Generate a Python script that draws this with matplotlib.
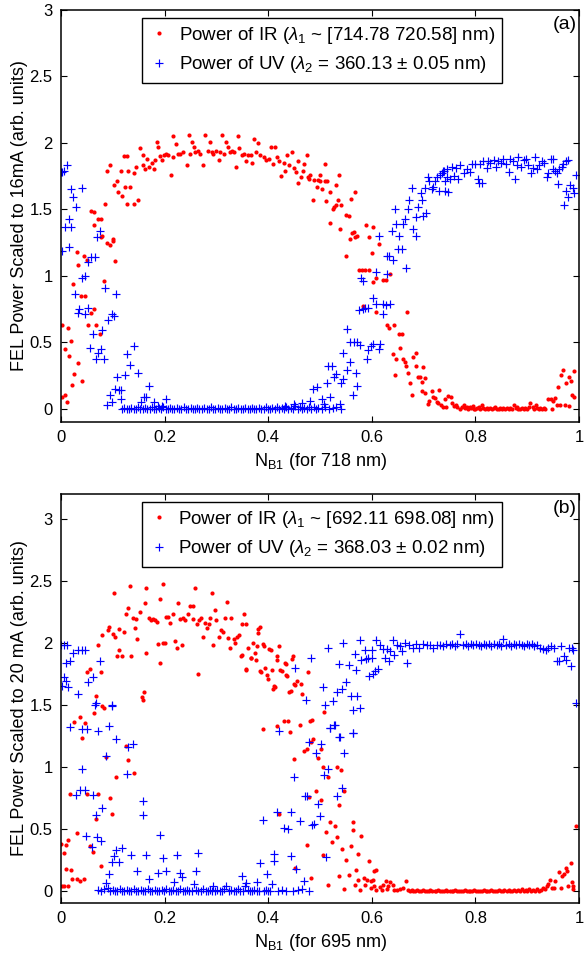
import numpy as np
import matplotlib.pyplot as plt

plt.rcParams['font.family'] = 'Liberation Sans'
plt.rcParams['mathtext.fontset'] = 'custom'
plt.rcParams['mathtext.rm'] = 'Liberation Sans'
plt.rcParams['mathtext.it'] = 'Liberation Sans:italic'

# ---- panel (a): scaled to 16 mA, 718 nm ----
ir_a = np.array([
    (0.001, 0.085), (0.007, 0.10), (0.012, 0.05), (0.002, 0.63), (0.008, 0.45), (0.013, 0.61),
    (0.015, 0.40), (0.019, 0.51), (0.021, 0.18), (0.026, 0.26), (0.032, 0.34), (0.040, 0.21),
    (0.024, 0.94), (0.030, 1.18), (0.033, 1.08), (0.039, 0.85), (0.047, 0.85), (0.045, 1.15),
    (0.050, 1.12), (0.052, 0.63), (0.057, 0.72), (0.063, 0.75), (0.068, 0.63), (0.075, 0.565),
    (0.077, 1.29), (0.083, 0.96), (0.088, 1.25), (0.094, 1.23), (0.100, 1.26), (0.105, 1.11),
    (0.057, 1.49), (0.064, 1.48), (0.063, 1.38), (0.071, 1.43), (0.077, 1.43), (0.079, 1.30),
    (0.084, 1.54), (0.100, 1.28),
    (0.088, 1.79), (0.095, 1.83), (0.102, 1.68), (0.109, 1.71), (0.110, 1.63), (0.115, 1.79),
    (0.117, 1.60), (0.121, 1.90), (0.127, 1.90), (0.123, 1.67), (0.128, 1.54), (0.129, 1.79),
    (0.134, 1.67), (0.140, 1.54), (0.140, 1.77), (0.148, 1.57), (0.145, 1.82), (0.153, 1.96),
    (0.158, 1.83), (0.159, 1.91), (0.163, 1.80), (0.166, 1.88), (0.170, 1.82), (0.175, 1.85),
    (0.180, 1.80), (0.182, 1.87), (0.185, 2.01), (0.188, 1.97), (0.191, 1.90), (0.195, 1.87),
    (0.198, 1.91), (0.202, 1.92), (0.207, 1.91), (0.212, 1.76), (0.216, 2.05), (0.217, 1.89),
    (0.221, 1.99), (0.225, 1.92), (0.230, 1.92), (0.236, 1.93), (0.243, 1.83), (0.247, 2.06),
    (0.249, 1.92), (0.253, 2.01), (0.256, 1.97), (0.259, 1.93), (0.265, 1.94), (0.268, 1.92),
    (0.275, 1.83), (0.278, 2.06), (0.283, 1.94), (0.288, 2.01), (0.291, 1.93), (0.294, 1.92),
    (0.299, 1.94), (0.304, 1.87), (0.307, 1.93), (0.310, 2.06), (0.314, 1.92), (0.319, 2.01),
    (0.322, 1.97), (0.327, 1.93), (0.330, 1.94), (0.333, 1.93), (0.338, 1.82), (0.341, 2.05),
    (0.344, 1.96), (0.349, 1.91), (0.354, 1.92), (0.358, 1.86), (0.361, 1.91), (0.366, 1.91),
    (0.369, 1.85), (0.373, 2.03), (0.376, 1.93), (0.381, 2.00), (0.385, 1.91), (0.391, 1.89),
    (0.395, 1.87), (0.402, 1.88), (0.405, 1.97), (0.409, 1.84), (0.413, 1.97), (0.417, 1.89),
    (0.421, 1.86), (0.425, 1.75), (0.430, 1.85), (0.433, 1.79), (0.437, 1.91), (0.441, 1.83),
    (0.445, 1.93), (0.449, 1.81), (0.453, 1.78), (0.457, 1.70),
    (0.458, 1.86), (0.463, 1.74), (0.468, 1.79), (0.469, 1.84), (0.474, 1.91), (0.476, 1.74),
    (0.478, 1.73), (0.481, 1.76), (0.487, 1.57), (0.488, 1.72), (0.495, 1.67), (0.496, 1.72),
    (0.499, 1.76), (0.500, 1.71), (0.503, 1.65), (0.510, 1.84), (0.510, 1.71), (0.512, 1.56),
    (0.514, 1.71), (0.519, 1.40), (0.520, 1.63), (0.525, 1.50), (0.527, 1.52), (0.530, 1.68),
    (0.530, 1.53), (0.535, 1.57), (0.536, 1.76), (0.539, 1.35), (0.540, 1.53), (0.550, 1.15),
    (0.551, 1.46), (0.555, 1.45), (0.557, 1.28), (0.560, 1.58), (0.562, 1.32), (0.566, 1.33),
    (0.568, 1.63), (0.568, 1.29), (0.572, 1.30), (0.589, 1.38), (0.594, 1.29), (0.600, 1.17),
    (0.603, 1.37), (0.614, 1.24),
    (0.576, 1.04), (0.581, 1.04), (0.587, 1.04), (0.595, 1.04), (0.602, 0.95), (0.609, 0.98),
    (0.621, 0.97), (0.627, 0.97), (0.635, 1.01), (0.582, 0.77), (0.608, 0.73), (0.629, 0.63),
    (0.634, 0.61), (0.642, 0.63), (0.653, 0.56), (0.658, 0.56), (0.667, 0.73), (0.654, 0.46),
    (0.640, 0.41), (0.647, 0.37), (0.645, 0.25), (0.661, 0.37), (0.664, 0.35), (0.666, 0.32),
    (0.670, 0.27), (0.674, 0.19), (0.677, 0.105), (0.679, 0.39), (0.685, 0.42), (0.685, 0.32),
    (0.690, 0.24), (0.693, 0.24), (0.696, 0.20), (0.698, 0.31), (0.703, 0.23), (0.696, 0.136),
    (0.703, 0.115), (0.709, 0.035), (0.710, 0.055), (0.716, 0.13), (0.719, 0.09), (0.722, 0.08),
    (0.725, 0.048), (0.730, 0.14), (0.728, 0.04), (0.733, 0.03), (0.738, 0.015), (0.742, 0.073),
    (0.744, 0.015), (0.748, 0.098),
    (0.752, 0.09), (0.755, 0.04), (0.758, 0.02), (0.762, 0.03), (0.765, 0.01), (0.770, 0.0),
    (0.774, 0.01), (0.777, 0.03), (0.780, 0.005), (0.783, 0.01), (0.786, 0.0), (0.789, 0.01),
    (0.792, 0.005), (0.795, 0.02), (0.798, 0.0), (0.800, 0.0), (0.803, 0.005), (0.806, 0.01),
    (0.809, 0.0), (0.812, 0.03), (0.815, 0.005), (0.819, 0.0), (0.822, 0.005), (0.825, 0.0),
    (0.828, 0.005), (0.832, 0.0), (0.835, 0.005), (0.838, 0.01), (0.841, 0.0), (0.845, 0.0),
    (0.848, 0.005), (0.851, 0.0), (0.854, 0.005), (0.857, 0.0), (0.860, 0.005), (0.864, 0.0),
    (0.867, 0.005), (0.870, 0.0), (0.875, 0.03), (0.878, 0.005), (0.880, 0.01), (0.883, 0.0),
    (0.886, 0.0), (0.889, 0.005), (0.893, 0.0), (0.896, 0.005), (0.900, 0.0), (0.903, 0.01),
    (0.906, 0.04), (0.911, 0.01), (0.914, 0.0), (0.916, 0.03), (0.919, 0.005), (0.922, 0.0),
    (0.925, 0.005), (0.929, 0.0), (0.932, 0.005), (0.935, 0.0), (0.940, 0.07), (0.945, 0.07),
    (0.948, 0.0), (0.950, 0.06), (0.954, 0.08), (0.957, 0.03), (0.964, 0.03), (0.960, 0.16),
    (0.966, 0.25), (0.970, 0.29), (0.974, 0.19), (0.973, 0.03), (0.980, 0.24), (0.980, 0.02),
    (0.985, 0.21), (0.987, 0.10), (0.991, 0.28), (0.991, 0.09),
])

uv_a = np.array([
    (0.000, 1.78), (0.002, 1.78), (0.006, 1.79), (0.011, 1.83), (0.019, 1.65), (0.024, 1.59),
    (0.029, 1.52), (0.041, 1.66), (0.016, 1.43), (0.008, 1.37), (0.020, 1.37), (0.075, 1.34),
    (0.070, 1.29), (0.001, 1.19), (0.015, 1.22), (0.053, 1.10), (0.058, 1.14), (0.065, 1.14),
    (0.041, 0.98), (0.047, 1.00), (0.027, 0.86), (0.035, 0.75), (0.032, 0.72), (0.046, 0.71),
    (0.053, 0.76), (0.062, 0.56), (0.056, 0.46), (0.067, 0.37), (0.071, 0.42), (0.078, 0.45),
    (0.083, 0.37), (0.080, 0.59), (0.085, 0.91), (0.090, 0.67), (0.098, 0.71), (0.103, 0.70),
    (0.107, 0.86), (0.089, 0.03), (0.094, 0.10), (0.099, 0.05), (0.104, 0.15), (0.108, 0.24),
    (0.111, 0.14), (0.116, 0.14), (0.115, 0.07), (0.124, 0.25), (0.128, 0.41), (0.134, 0.33),
    (0.140, 0.47), (0.148, 0.27), (0.154, 0.05), (0.160, 0.09), (0.164, 0.09), (0.170, 0.17),
    (0.180, 0.05), (0.188, 0.02), (0.194, 0.02), (0.202, 0.07),
    (0.118, 0.0), (0.122, 0.005), (0.127, 0.0), (0.131, 0.0), (0.136, 0.005), (0.140, 0.0),
    (0.145, 0.0), (0.149, 0.01), (0.153, 0.0), (0.158, 0.0), (0.162, 0.005), (0.166, 0.0),
    (0.171, 0.0), (0.175, 0.01), (0.179, 0.0), (0.184, 0.0), (0.189, 0.005), (0.193, 0.0),
    (0.197, 0.01), (0.202, 0.0), (0.206, 0.0), (0.210, 0.005), (0.215, 0.0), (0.219, 0.0),
    (0.224, 0.005), (0.228, 0.0), (0.232, 0.0), (0.237, 0.01), (0.241, 0.0), (0.246, 0.0),
    (0.250, 0.005), (0.254, 0.0), (0.259, 0.0), (0.263, 0.005), (0.267, 0.0), (0.272, 0.0),
    (0.276, 0.005), (0.281, 0.0), (0.285, 0.0), (0.289, 0.01), (0.294, 0.0), (0.298, 0.0),
    (0.303, 0.005), (0.307, 0.0), (0.311, 0.0), (0.316, 0.005), (0.320, 0.0), (0.325, 0.0),
    (0.329, 0.01), (0.333, 0.0), (0.338, 0.0), (0.342, 0.005), (0.347, 0.0), (0.351, 0.0),
    (0.355, 0.005), (0.360, 0.0), (0.364, 0.0), (0.369, 0.005), (0.373, 0.0), (0.377, 0.0),
    (0.382, 0.005), (0.386, 0.0), (0.391, 0.0), (0.395, 0.01), (0.399, 0.0), (0.404, 0.0),
    (0.408, 0.005), (0.413, 0.0), (0.417, 0.01), (0.421, 0.0), (0.426, 0.005), (0.430, 0.0),
    (0.435, 0.01), (0.439, 0.0), (0.443, 0.005), (0.448, 0.0), (0.452, 0.02), (0.457, 0.0),
    (0.461, 0.01), (0.465, 0.0), (0.470, 0.005), (0.474, 0.0), (0.479, 0.015), (0.483, 0.0),
    (0.488, 0.01), (0.492, 0.0), (0.497, 0.005), (0.503, 0.0), (0.510, 0.01), (0.518, 0.0),
    (0.525, 0.005), (0.540, 0.0),
    (0.432, 0.02), (0.450, 0.035), (0.465, 0.04), (0.481, 0.055), (0.486, 0.15), (0.495, 0.16),
    (0.503, 0.073), (0.508, 0.035), (0.513, 0.19), (0.520, 0.09), (0.516, 0.32), (0.524, 0.32),
    (0.526, 0.24), (0.531, 0.26), (0.531, 0.015), (0.539, 0.035), (0.540, 0.19), (0.545, 0.22),
    (0.545, 0.42), (0.552, 0.60), (0.552, 0.29), (0.558, 0.35), (0.558, 0.50), (0.563, 0.10),
    (0.566, 0.50), (0.570, 0.27), (0.572, 0.17), (0.572, 0.50), (0.577, 0.48), (0.576, 0.74),
    (0.582, 0.96), (0.582, 0.75), (0.587, 0.76), (0.590, 0.37), (0.593, 0.76), (0.593, 0.44),
    (0.598, 0.47), (0.602, 0.49), (0.603, 0.83), (0.608, 0.79), (0.609, 1.03), (0.614, 0.45),
    (0.616, 0.49), (0.622, 0.79), (0.622, 0.71), (0.627, 0.78), (0.630, 1.01), (0.635, 0.79),
    (0.666, 1.06),
    (0.580, 0.98), (0.613, 1.30), (0.630, 1.15), (0.634, 1.15), (0.640, 1.12), (0.638, 1.34),
    (0.647, 1.39), (0.653, 1.30), (0.651, 1.20), (0.658, 1.20), (0.660, 1.39), (0.664, 1.43),
    (0.645, 1.50), (0.670, 1.50), (0.672, 1.57), (0.677, 1.66), (0.679, 1.35), (0.685, 1.30),
    (0.685, 1.44), (0.690, 1.52), (0.694, 1.62), (0.696, 1.57), (0.699, 1.45), (0.705, 1.47),
    (0.703, 1.66), (0.709, 1.74), (0.711, 1.71), (0.716, 1.65), (0.719, 1.67), (0.722, 1.71),
    (0.725, 1.74), (0.729, 1.64), (0.732, 1.76), (0.738, 1.79), (0.741, 1.64), (0.746, 1.74),
    (0.748, 1.63),
    (0.735, 1.77), (0.739, 1.79), (0.742, 1.71), (0.746, 1.80), (0.750, 1.73), (0.754, 1.82),
    (0.759, 1.75), (0.763, 1.81), (0.767, 1.73), (0.771, 1.83), (0.777, 1.77), (0.783, 1.80),
    (0.790, 1.78), (0.793, 1.84), (0.799, 1.84), (0.804, 1.73), (0.806, 1.70), (0.812, 1.70),
    (0.809, 1.84), (0.815, 1.86), (0.822, 1.81), (0.825, 1.86), (0.829, 1.85), (0.835, 1.87),
    (0.840, 1.82), (0.844, 1.86), (0.849, 1.85), (0.854, 1.88), (0.859, 1.84), (0.864, 1.78),
    (0.867, 1.88), (0.872, 1.86), (0.876, 1.73), (0.880, 1.83), (0.883, 1.89), (0.888, 1.82),
    (0.893, 1.87), (0.898, 1.88), (0.902, 1.83), (0.907, 1.77), (0.912, 1.81), (0.915, 1.89),
    (0.918, 1.80), (0.923, 1.83), (0.928, 1.86), (0.932, 1.85), (0.938, 1.74), (0.941, 1.77),
    (0.945, 1.88), (0.950, 1.88), (0.949, 1.80), (0.954, 1.79), (0.957, 1.77), (0.962, 1.80),
    (0.960, 1.69), (0.967, 1.82), (0.970, 1.84), (0.975, 1.86), (0.979, 1.87), (0.971, 1.53),
    (0.975, 1.64), (0.979, 1.59), (0.983, 1.68), (0.988, 1.66), (0.990, 1.62), (0.994, 1.76),
])

# ---- panel (b): scaled to 20 mA, 695 nm ----
ir_b = np.array([
    (0.000, 0.38), (0.005, 0.306), (0.009, 0.37), (0.014, 0.41), (0.002, 0.035), (0.006, 0.035),
    (0.014, 0.035), (0.009, 0.175), (0.020, 0.17), (0.022, 0.094), (0.030, 0.465), (0.031, 0.09),
    (0.036, 0.076), (0.044, 0.09), (0.017, 0.78), (0.026, 1.36), (0.036, 1.40), (0.040, 1.23),
    (0.046, 1.35), (0.051, 0.78), (0.055, 0.36), (0.062, 0.31), (0.063, 1.43), (0.067, 0.58),
    (0.072, 0.78), (0.077, 0.20), (0.082, 1.47), (0.086, 1.08), (0.095, 0.75), (0.099, 0.62),
    (0.107, 0.92), (0.125, 1.17), (0.130, 1.05), (0.140, 0.95), (0.159, 1.54),
    (0.050, 1.76), (0.056, 1.79), (0.067, 1.57), (0.072, 1.98), (0.077, 1.76), (0.080, 1.49),
    (0.080, 2.06), (0.090, 2.10), (0.093, 2.13), (0.100, 2.07), (0.103, 2.40), (0.104, 2.05),
    (0.108, 1.89), (0.112, 1.94), (0.117, 1.89), (0.112, 2.11), (0.122, 2.09), (0.126, 2.23),
    (0.130, 2.28), (0.134, 2.46), (0.135, 1.89), (0.138, 2.20), (0.142, 2.12), (0.145, 2.19),
    (0.147, 2.03), (0.152, 2.25), (0.156, 1.56), (0.160, 1.60), (0.162, 2.32), (0.165, 2.44),
    (0.165, 1.92), (0.169, 2.20), (0.173, 2.18), (0.177, 2.19), (0.182, 2.18), (0.185, 2.17),
    (0.188, 1.99), (0.191, 1.84), (0.192, 2.35), (0.196, 2.47), (0.197, 2.00), (0.200, 2.00),
    (0.203, 2.21), (0.207, 2.21), (0.210, 2.16), (0.216, 2.23), (0.220, 2.01), (0.224, 1.96),
    (0.225, 2.32), (0.230, 2.19), (0.233, 1.98), (0.236, 2.20), (0.240, 2.18), (0.246, 2.23),
    (0.249, 2.30), (0.254, 2.30), (0.255, 2.19), (0.258, 2.44), (0.262, 2.15), (0.265, 1.75),
    (0.267, 2.18), (0.271, 2.20), (0.275, 2.05), (0.278, 2.16), (0.281, 2.12), (0.285, 2.15),
    (0.288, 2.20), (0.291, 2.40), (0.294, 1.98), (0.297, 2.26), (0.300, 2.18), (0.304, 2.05),
    (0.308, 2.10), (0.312, 2.09), (0.317, 2.20), (0.320, 2.33), (0.323, 2.04), (0.327, 1.96),
    (0.328, 2.20), (0.333, 2.03), (0.336, 2.00), (0.340, 2.05), (0.344, 2.06), (0.347, 1.89),
    (0.350, 2.15), (0.353, 2.23), (0.357, 1.78), (0.358, 2.15), (0.361, 1.96), (0.366, 1.88),
    (0.371, 2.00), (0.374, 1.92), (0.378, 1.97), (0.380, 2.08), (0.384, 2.13), (0.385, 1.77),
    (0.390, 1.99), (0.394, 1.80), (0.397, 1.74), (0.402, 1.95), (0.407, 1.78), (0.409, 1.63),
    (0.411, 1.65), (0.416, 1.89), (0.421, 1.97), (0.426, 1.77), (0.434, 1.83), (0.437, 1.73),
    (0.443, 1.61), (0.447, 1.89), (0.452, 1.66), (0.455, 1.69),
    (0.349, 1.90), (0.358, 1.79), (0.367, 1.88), (0.376, 1.86), (0.381, 2.11), (0.387, 1.76),
    (0.392, 1.97), (0.399, 1.71), (0.405, 1.94), (0.413, 1.64), (0.417, 1.86), (0.423, 1.78),
    (0.432, 1.84), (0.435, 1.74), (0.441, 1.60), (0.445, 1.87), (0.450, 1.67), (0.463, 1.67),
    (0.466, 1.59), (0.477, 1.76), (0.481, 1.37), (0.507, 1.44), (0.483, 1.20),
    (0.389, 1.30), (0.416, 1.33), (0.430, 1.37), (0.439, 1.37), (0.442, 1.28), (0.461, 1.34),
    (0.484, 1.38), (0.449, 1.06), (0.487, 1.22), (0.470, 1.13), (0.474, 1.14), (0.497, 1.07),
    (0.501, 1.14), (0.506, 1.00), (0.516, 0.914), (0.532, 1.00), (0.541, 0.976), (0.492, 0.807),
    (0.479, 0.756), (0.547, 0.80), (0.502, 0.73), (0.537, 0.69), (0.420, 0.62), (0.519, 0.554),
    (0.529, 0.524), (0.563, 0.557), (0.564, 0.486), (0.511, 0.476), (0.533, 0.433), (0.579, 0.444),
    (0.474, 0.371), (0.524, 0.39), (0.542, 0.339), (0.560, 0.357), (0.505, 0.29), (0.550, 0.25),
    (0.573, 0.295), (0.595, 0.237), (0.452, 0.183), (0.570, 0.169), (0.604, 0.156), (0.609, 0.164),
    (0.483, 0.102), (0.537, 0.116), (0.556, 0.129), (0.584, 0.102), (0.591, 0.089), (0.574, 0.089),
    (0.515, 0.048), (0.546, 0.016), (0.568, 0.048), (0.577, 0.008), (0.587, 0.048), (0.598, 0.075),
    (0.602, 0.089), (0.598, 0.02), (0.604, 0.04), (0.609, 0.003), (0.615, 0.027), (0.619, 0.008),
    (0.622, 0.048), (0.627, 0.075), (0.630, 0.011), (0.635, 0.07), (0.640, 0.048), (0.632, 0.04),
    (0.642, 0.008), (0.648, 0.008), (0.666, 0.075), (0.655, 0.01), (0.660, 0.02),
    (0.670, 0.005), (0.673, 0.0), (0.677, 0.005), (0.680, 0.0), (0.684, 0.0), (0.688, 0.005),
    (0.691, 0.0), (0.695, 0.0), (0.699, 0.005), (0.702, 0.0), (0.706, 0.0), (0.710, 0.0),
    (0.713, 0.005), (0.717, 0.0), (0.721, 0.0), (0.724, 0.0), (0.728, 0.005), (0.732, 0.0),
    (0.735, 0.0), (0.739, 0.0), (0.743, 0.005), (0.746, 0.0), (0.750, 0.0), (0.754, 0.0),
    (0.757, 0.0), (0.761, 0.005), (0.765, 0.0), (0.768, 0.0), (0.772, 0.0), (0.776, 0.0),
    (0.779, 0.005), (0.783, 0.0), (0.787, 0.0), (0.790, 0.0), (0.794, 0.0), (0.798, 0.005),
    (0.801, 0.0), (0.805, 0.0), (0.809, 0.0), (0.812, 0.0), (0.816, 0.005), (0.820, 0.0),
    (0.823, 0.0), (0.827, 0.0), (0.831, 0.005), (0.834, 0.0), (0.838, 0.0), (0.842, 0.0),
    (0.845, 0.005), (0.849, 0.0), (0.853, 0.0), (0.856, 0.005), (0.860, 0.0), (0.864, 0.005),
    (0.867, 0.0), (0.871, 0.0), (0.875, 0.005), (0.878, 0.0), (0.882, 0.005), (0.886, 0.0),
    (0.889, 0.01), (0.893, 0.0), (0.897, 0.005), (0.900, 0.0), (0.904, 0.01), (0.908, 0.0),
    (0.911, 0.005), (0.915, 0.0), (0.919, 0.01), (0.922, 0.0), (0.926, 0.005), (0.930, 0.02),
    (0.934, 0.01), (0.938, 0.035), (0.941, 0.056), (0.944, 0.089), (0.947, 0.02), (0.953, 0.075),
    (0.952, 0.02), (0.962, 0.148), (0.966, 0.02), (0.968, 0.116), (0.971, 0.13), (0.975, 0.183),
    (0.976, 0.156), (0.979, 0.035), (0.984, 0.223), (0.986, 0.067), (0.988, 0.035), (0.989, 0.013),
    (0.994, 0.524),
])

uv_b = np.array([
    (0.000, 1.98), (0.005, 1.98), (0.011, 1.98), (0.005, 1.72), (0.010, 1.69), (0.001, 1.65),
    (0.014, 1.64), (0.009, 1.84), (0.018, 1.85), (0.023, 1.92), (0.032, 1.59), (0.033, 1.94),
    (0.040, 1.94), (0.046, 1.94), (0.053, 1.68), (0.062, 1.72), (0.075, 1.85), (0.067, 1.51),
    (0.098, 1.50),
    (0.017, 1.32), (0.040, 1.30), (0.051, 1.30), (0.066, 1.50), (0.072, 1.29), (0.093, 1.33),
    (0.098, 1.49), (0.107, 1.22), (0.130, 1.16), (0.138, 1.18), (0.040, 0.98), (0.029, 0.77),
    (0.036, 0.81), (0.046, 0.81), (0.062, 0.77), (0.067, 0.61), (0.080, 0.67), (0.087, 1.09),
    (0.127, 0.94), (0.159, 0.72), (0.158, 0.61), (0.048, 0.44), (0.069, 0.43), (0.077, 0.40),
    (0.059, 0.35), (0.093, 0.13), (0.098, 0.23), (0.102, 0.28), (0.107, 0.33), (0.112, 0.23),
    (0.117, 0.34), (0.135, 0.29), (0.147, 0.16), (0.165, 0.29), (0.170, 0.09), (0.188, 0.14),
    (0.192, 0.45), (0.197, 0.26), (0.202, 0.16), (0.219, 0.07), (0.223, 0.29), (0.229, 0.14),
    (0.233, 0.11), (0.260, 0.16), (0.265, 0.30), (0.087, 0.06), (0.090, 0.02),
    (0.256, 0.05), (0.294, 0.04), (0.319, 0.04), (0.349, 0.12), (0.357, 0.06), (0.355, 0.035),
    (0.379, 0.07), (0.385, 0.22), (0.389, 0.57), (0.398, 0.135), (0.408, 0.057), (0.412, 0.297),
    (0.412, 0.237), (0.416, 0.635), (0.430, 0.505), (0.439, 0.497), (0.443, 0.632), (0.444, 0.281),
    (0.449, 0.914), (0.453, 0.175), (0.461, 0.56), (0.469, 0.075), (0.466, 0.013), (0.471, 0.76),
    (0.474, 0.76), (0.479, 1.20), (0.479, 0.0), (0.484, 0.53), (0.488, 0.54), (0.492, 1.11),
    (0.497, 0.70), (0.501, 1.18), (0.500, 0.60), (0.507, 0.93), (0.511, 0.27), (0.516, 0.98),
    (0.519, 1.31), (0.527, 1.34), (0.532, 0.76), (0.537, 1.24), (0.542, 0.83), (0.546, 1.11),
    (0.563, 1.27),
    (0.072, 0.005), (0.078, 0.0), (0.083, 0.01), (0.095, 0.0), (0.100, 0.005), (0.104, 0.0),
    (0.109, 0.0), (0.113, 0.01), (0.118, 0.0), (0.122, 0.0), (0.127, 0.005), (0.131, 0.0),
    (0.136, 0.0), (0.140, 0.01), (0.145, 0.0), (0.149, 0.0), (0.154, 0.005), (0.158, 0.0),
    (0.163, 0.0), (0.167, 0.01), (0.172, 0.0), (0.176, 0.0), (0.181, 0.005), (0.185, 0.0),
    (0.190, 0.0), (0.194, 0.005), (0.199, 0.0), (0.203, 0.01), (0.208, 0.0), (0.212, 0.0),
    (0.217, 0.005), (0.221, 0.0), (0.226, 0.0), (0.230, 0.01), (0.235, 0.0), (0.239, 0.0),
    (0.244, 0.005), (0.248, 0.0), (0.252, 0.0), (0.261, 0.005), (0.265, 0.0), (0.270, 0.0),
    (0.274, 0.01), (0.279, 0.0), (0.283, 0.0), (0.288, 0.005), (0.292, 0.0), (0.297, 0.0),
    (0.301, 0.005), (0.306, 0.0), (0.310, 0.0), (0.315, 0.01), (0.324, 0.0), (0.328, 0.005),
    (0.333, 0.0), (0.337, 0.0), (0.342, 0.01), (0.346, 0.0), (0.351, 0.0), (0.360, 0.005),
    (0.364, 0.0), (0.369, 0.0), (0.373, 0.005), (0.378, 0.0), (0.382, 0.0), (0.391, 0.0),
    (0.395, 0.005), (0.400, 0.0), (0.404, 0.0), (0.418, 0.0), (0.427, 0.005), (0.435, 0.0),
    (0.447, 0.0), (0.457, 0.005),
    (0.420, 1.285), (0.452, 1.80), (0.473, 1.54), (0.483, 1.88), (0.505, 1.64), (0.510, 1.50),
    (0.515, 1.96), (0.519, 1.31), (0.525, 1.53), (0.528, 1.34), (0.532, 1.60), (0.537, 1.83),
    (0.539, 1.24), (0.542, 1.63), (0.545, 2.00), (0.551, 1.68), (0.555, 1.82), (0.559, 1.57),
    (0.563, 1.46), (0.563, 1.27), (0.568, 1.91), (0.570, 1.78), (0.572, 1.57), (0.577, 2.02),
    (0.577, 1.47), (0.580, 1.86), (0.587, 1.94), (0.589, 1.87), (0.593, 1.88), (0.595, 1.73),
    (0.600, 1.94), (0.600, 1.88), (0.602, 1.75), (0.606, 1.77), (0.609, 2.02), (0.611, 1.79),
    (0.615, 1.98), (0.621, 1.95), (0.625, 1.88), (0.630, 1.95), (0.634, 1.85), (0.636, 1.93),
    (0.640, 2.02), (0.643, 1.90), (0.648, 1.98), (0.654, 1.97), (0.659, 1.93), (0.664, 2.00),
    (0.667, 1.84), (0.672, 1.98), (0.680, 1.96), (0.686, 1.99), (0.692, 1.96), (0.698, 1.99),
    (0.706, 1.98), (0.712, 1.98), (0.719, 1.96), (0.725, 1.98), (0.732, 1.98), (0.738, 1.97),
    (0.744, 1.99),
    (0.750, 1.98), (0.755, 1.99), (0.760, 1.97), (0.765, 1.99), (0.771, 2.07), (0.776, 1.98),
    (0.781, 1.99), (0.786, 1.97), (0.791, 1.99), (0.796, 1.98), (0.801, 1.99), (0.806, 1.98),
    (0.811, 1.97), (0.816, 1.99), (0.821, 1.98), (0.826, 1.99), (0.831, 1.97), (0.836, 1.99),
    (0.841, 1.98), (0.846, 1.99), (0.850, 1.97), (0.854, 2.03), (0.859, 1.98), (0.864, 1.99),
    (0.869, 1.97), (0.874, 1.99), (0.879, 1.98), (0.884, 1.99), (0.889, 1.98), (0.894, 1.97),
    (0.899, 1.99), (0.904, 1.98), (0.909, 1.99), (0.914, 1.97), (0.919, 1.98), (0.924, 1.96),
    (0.931, 1.95), (0.936, 1.94), (0.941, 1.96), (0.946, 1.97), (0.951, 1.96), (0.957, 1.85),
    (0.962, 1.85), (0.966, 1.97), (0.971, 1.89), (0.975, 1.86), (0.980, 1.96), (0.984, 1.81),
    (0.986, 1.96), (0.989, 1.94), (0.994, 1.51),
])

ir_label_a = 'Power of IR ($\\lambda_1$ ~ [714.78 720.58] nm)'
uv_label_a = 'Power of UV ($\\lambda_2$ = 360.13 \u00b1 0.05 nm)'
ir_label_b = 'Power of IR ($\\lambda_1$ ~ [692.11 698.08] nm)'
uv_label_b = 'Power of UV ($\\lambda_2$ = 368.03 \u00b1 0.02 nm)'

x_ticks = [0, 0.2, 0.4, 0.6, 0.8, 1]
x_ticklabels = ['0', '0.2', '0.4', '0.6', '0.8', '1']
y_ticks = [0, 0.5, 1, 1.5, 2, 2.5, 3]
y_ticklabels = ['0', '0.5', '1', '1.5', '2', '2.5', '3']


def draw_panel(ax, ir, uv, ir_label, uv_label, ylabel, xlabel, tag, ymax, leg_y):
    ax.plot(ir[:, 0], ir[:, 1], '.', color='red', ms=6, mew=0, label=ir_label)
    ax.plot(uv[:, 0], uv[:, 1], '+', color='blue', ms=6, mew=0.85, label=uv_label)
    ax.set_xlim(0, 1)
    ax.set_ylim(-0.1, ymax)
    ax.set_xticks(x_ticks)
    ax.set_xticklabels(x_ticklabels)
    ax.set_yticks(y_ticks)
    ax.set_yticklabels(y_ticklabels)
    ax.tick_params(direction='in', top=True, right=True, length=4, width=0.8,
                   labelsize=12, pad=6)
    for s in ax.spines.values():
        s.set_linewidth(1.1)
    ax.set_xlabel(xlabel, fontsize=13, labelpad=4)
    ax.set_ylabel(ylabel, fontsize=13, labelpad=1)
    ax.text(0.996, 0.985, tag, transform=ax.transAxes, ha='right', va='top', fontsize=14)
    leg = ax.legend(loc='upper center', bbox_to_anchor=(0.504, leg_y), fontsize=13.5,
                    fancybox=False, edgecolor='black', framealpha=1, handlelength=1.0,
                    handletextpad=0.55, borderpad=0.38, labelspacing=0.45, borderaxespad=0.2,
                    markerscale=1.0)
    leg.get_frame().set_linewidth(1.0)


fig = plt.figure(figsize=(5.84, 9.59), dpi=100)
ax_a = fig.add_axes([0.1045, 0.5600, 0.887, 0.4296])
ax_b = fig.add_axes([0.1045, 0.0584, 0.887, 0.4265])

draw_panel(ax_a, ir_a, uv_a, ir_label_a, uv_label_a,
           'FEL Power Scaled to 16mA (arb. units)', 'N$_{\\rm B1}$ (for 718 nm)', '(a)', 3.0, 0.99)
draw_panel(ax_b, ir_b, uv_b, ir_label_b, uv_label_b,
           'FEL Power Scaled to 20 mA (arb. units)', 'N$_{\\rm B1}$ (for 695 nm)', '(b)', 3.2, 0.99)

fig.savefig('out.png', dpi=100)
